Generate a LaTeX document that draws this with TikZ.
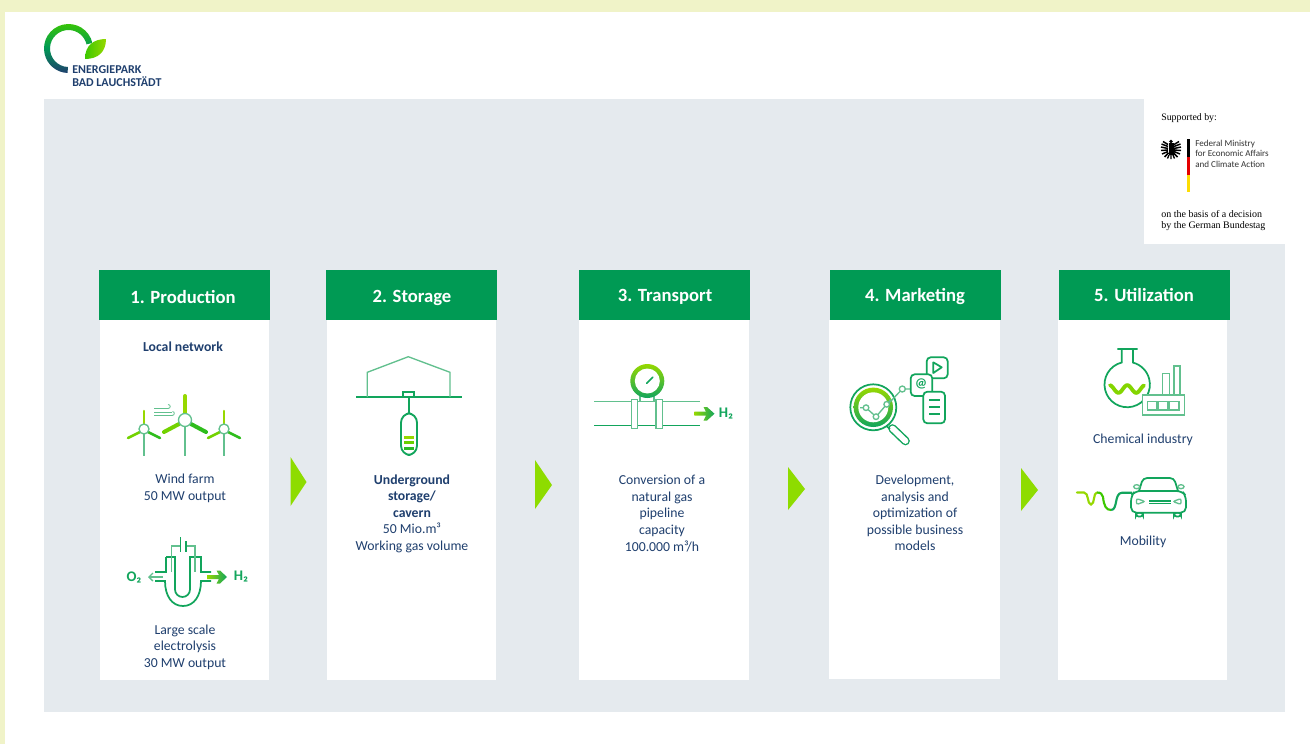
\documentclass[tikz,border=0pt]{standalone}
\usepackage{fontspec}
\usetikzlibrary{arrows.meta}
\setmainfont{Carlito}
\newfontfamily\serifface{Liberation Serif}
\definecolor{bandcol}{HTML}{F0F3C8}
\definecolor{panelcol}{HTML}{E5EAEE}
\definecolor{headcol}{HTML}{009A54}
\definecolor{navycol}{HTML}{1F3F6E}
\definecolor{limecol}{HTML}{96D800}
\definecolor{leafcol}{HTML}{3CC800}
\definecolor{iconcol}{HTML}{12A55C}
\definecolor{palecol}{HTML}{62C08E}
\definecolor{chevcol}{HTML}{8EDC00}
\tikzset{
  headtext/.style={text=white,text height=10pt,text depth=3pt,font=\fontsize{14}{16}\selectfont\bfseries},
  bodytext/.style={text=navycol,align=center,font=\fontsize{10.3}{12.4}\selectfont},
  icon/.style={draw=iconcol,line width=1.3pt},
  thinicon/.style={draw=palecol,line width=1pt},
  blade/.style={line width=1.9pt,line cap=round},
  gas/.style={text=iconcol,font=\fontsize{11}{12}\selectfont\bfseries},
  glide/.style={left color=limecol,right color=iconcol,draw=none},
  logotext/.style={text=navycol,anchor=west,inner sep=0pt,font=\fontsize{9}{10}\selectfont\bfseries}
}
\begin{document}
\begin{tikzpicture}[x=0.75pt,y=-0.75pt]
\useasboundingbox (0,0) rectangle (1310,744);
\fill[white] (0,0) rectangle (1310,744);
\fill[bandcol] (0,0) rectangle (1310,12);
\fill[bandcol] (0,0) rectangle (5,744);
\fill[panelcol] (44,99) rectangle (1285,712);
\fill[white] (1144,99) rectangle (1285,244);

\shade[top color=leafcol,bottom color=navycol,middle color=headcol,shift={(68.5,48.5)}] (-13:24.5) arc[start angle=-13,end angle=-268,radius=24.5] -- (-268:18.5) arc[start angle=-268,end angle=-13,radius=18.5] -- cycle;
\shade[left color=leafcol,right color=limecol] (85,59) .. controls (85,45) and (94,39) .. (106,39) .. controls (106,52) and (98,59) .. cycle;
\node[logotext] (logotop) at (72,70) {ENERGIEPARK};
\node[logotext] (logobottom) at (72,81.5) {BAD LAUCHSTÄDT};

\node[anchor=west,inner sep=0pt,font=\serifface\fontsize{7.4}{8}\selectfont] (supported) at (1161,118) {Supported by:};
\node[anchor=north west,inner sep=0pt,align=left,text=black!80,font=\fontsize{6.8}{7.9}\selectfont] (ministry) at (1195,139.5) {Federal Ministry\\for Economic Affairs\\and Climate Action};
\node[anchor=north west,inner sep=0pt,align=left,font=\serifface\fontsize{7.5}{7.9}\selectfont] (decision) at (1161,210.5) {on the basis of a decision\\by the German Bundestag};
\fill[black] (1186.5,139) rectangle (1189.5,157);
\fill[red!90!black] (1186.5,157) rectangle (1189.5,175);
\fill[yellow!80!orange] (1186.5,175) rectangle (1189.5,192);
\fill[black] (1171,141.5) circle (1.8);
\fill[black] (1168.5,143) rectangle (1173.5,155);
\draw[black,line width=1.1pt] (1168,144.5) -- (1163,141.5) (1168,146.5) -- (1161.5,144) (1168,148.5) -- (1161,147) (1168,150) -- (1161,150.5) (1168,151.5) -- (1162,154) (1168.5,153) -- (1164.5,157);
\draw[black,line width=1.1pt] (1174,144.5) -- (1179,141.5) (1174,146.5) -- (1180.5,144) (1174,148.5) -- (1181,147) (1174,150) -- (1181,150.5) (1174,151.5) -- (1180,154) (1173.5,153) -- (1177.5,157);
\draw[black,line width=1pt] (1169,155) -- (1167.5,158.5) (1171,155) -- (1171,159) (1173,155) -- (1174.5,158.5);

\fill[white] (100,320) rectangle (269,680);
\fill[headcol] (99,270) rectangle (270,320);
\node[headtext] (production) at (183,299) {1. Production};
\fill[white] (327,320) rectangle (496,680);
\fill[headcol] (326,270) rectangle (497,320);
\node[headtext] (storage) at (412,298) {2. Storage};
\fill[white] (579,320) rectangle (749,680);
\fill[headcol] (579,270) rectangle (750,320);
\node[headtext] (transport) at (665,297) {3. Transport};
\fill[white] (829,320) rectangle (1000,679);
\fill[headcol] (830,270) rectangle (1001,320);
\node[headtext] (marketing) at (915,297) {4. Marketing};
\fill[white] (1058,320) rectangle (1227,680);
\fill[headcol] (1059,270) rectangle (1230,320);
\node[headtext] (utilization) at (1144,297) {5. Utilization};

\fill[chevcol] (290.5,457) -- (306.5,482) -- (290.5,506) -- cycle;
\fill[chevcol] (535,460) -- (552,485) -- (535,509) -- cycle;
\fill[chevcol] (788,467) -- (805,489) -- (788,510) -- cycle;
\fill[chevcol] (1021,468) -- (1038,490) -- (1021,511) -- cycle;

\node[bodytext,font=\fontsize{10.3}{12.4}\selectfont\bfseries] (localnet) at (183,347) {Local network};
\node[bodytext] (windfarm) at (185,488.5) {Wind farm\\50 MW output};
\node[bodytext] (electrolysis) at (185,647) {Large scale\\electrolysis\\30 MW output};
\node[bodytext] (cavern) at (412,513.5) {\textbf{Underground}\\\textbf{storage/}\\\textbf{cavern}\\50 Mio.m³\\Working gas volume};
\node[bodytext] (conversion) at (662,513.5) {Conversion of a\\natural gas\\pipeline\\capacity\\100.000 m³/h};
\node[bodytext] (models) at (915,513) {Development,\\analysis and\\optimization of\\possible business\\models};
\node[bodytext] (chemical) at (1143,440) {Chemical industry};
\node[bodytext] (mobility) at (1143,542) {Mobility};

\draw[palecol,line width=1.1pt] (144,429) -- (144,456);
\draw[limecol,blade] (144,424) -- (144,411);
\draw[limecol!60!leafcol,blade] (140,432) -- (128,438);
\draw[leafcol!70!iconcol,blade] (148,432) -- (160,438);
\draw[thinicon,fill=white] (144,429) circle (5);
\draw[palecol,line width=1.1pt] (185,420) -- (185,456);
\draw[limecol,line width=3pt,line cap=round] (185,413) -- (185,396);
\draw[limecol!60!leafcol,line width=3pt,line cap=round] (179,424) -- (164,432);
\draw[leafcol!70!iconcol,line width=3pt,line cap=round] (191,424) -- (206,432);
\draw[thinicon,fill=white] (185,420) circle (6.5);
\draw[palecol,line width=1.1pt] (224,429) -- (224,456);
\draw[limecol,blade] (224,424) -- (224,411);
\draw[limecol!60!leafcol,blade] (220,432) -- (208,438);
\draw[leafcol!70!iconcol,blade] (228,432) -- (240,438);
\draw[thinicon,fill=white] (224,429) circle (5);
\draw[palecol,line width=.6pt] (154,408.5) -- (168,408.5) .. controls (171,408.5) and (171,404.5) .. (168,404.5);
\draw[palecol,line width=.6pt] (154,412) -- (172,412);
\draw[palecol,line width=.6pt] (154,415.5) -- (172,415.5) .. controls (175,415.5) and (175,411.5) .. (172.5,411.5);

\node[gas] (oxygen) at (134,577) {O₂};
\node[gas] (hydrogena) at (241,577) {H₂};
\draw[icon] (166,557) -- (166,572) -- (155,572);
\draw[icon] (155,581) -- (165,581) .. controls (165,596) and (172,606) .. (183,606) .. controls (194,606) and (201,596) .. (201,581) -- (211,581);
\draw[icon] (166,557) -- (175,557) -- (175,589.5) arc[start angle=180,end angle=90,radius=7.5] arc[start angle=90,end angle=0,radius=7.5] -- (190,557) -- (201,557) -- (201,572) -- (211,572);
\draw[thinicon] (171.7,572) -- (171.7,546) -- (180.5,546) (186,546) -- (195,546) -- (195,572);
\draw[icon,line width=.7pt] (180.5,537) -- (180.5,552);
\draw[icon,line width=2pt] (186,541) -- (186,552);
\draw[thinicon,-{Straight Barb[length=3pt]}] (163,577) -- (148,577);
\shade[glide] (207,575) -- (219,575) -- (216.5,570.5) -- (220,570.5) -- (227,577) -- (220,583.5) -- (216.5,583.5) -- (219,579) -- (207,579) -- cycle;

\draw[icon] (356,397.3) -- (462,397.3);
\draw[thinicon,line width=1pt] (367.3,397) -- (367.3,372.3) -- (408.3,356.7) -- (450,372.3) -- (450,397);
\draw[icon,fill=white] (403.3,391.7) rectangle (414.3,397.3);
\draw[icon,line width=1.4pt] (408.7,397.3) -- (408.7,413.3);
\draw[icon,line width=1.4pt,fill=white,rounded corners=7pt] (401,413.3) rectangle (417,455);
\fill[limecol] (403.7,435.5) rectangle (413.7,438.5);
\fill[limecol!50!leafcol] (403.7,441) rectangle (413.7,444);
\fill[leafcol!60!iconcol] (403.7,446.5) rectangle (413.7,449.5);

\draw[palecol,line width=1.1pt] (594.3,401.7) -- (700,401.7);
\draw[iconcol,line width=1pt] (594.3,425.7) -- (700,425.7);
\draw[thinicon,fill=white] (631.7,399.3) rectangle (637.7,428.3);
\draw[thinicon,fill=white] (656,399.3) rectangle (662.3,428.3);
\draw[thinicon] (640,401) -- (640,396) (654,401) -- (654,396);
\shade[top color=limecol,bottom color=iconcol] (647.3,381) circle (17);
\fill[white] (647.3,381) circle (12.5);
\draw[iconcol,line width=1.2pt,line cap=round] (646.7,383.3) -- (652.7,377.3);
\shade[glide] (694.3,411.7) -- (706,411.7) -- (703.5,407) -- (707,407) -- (714.5,413.7) -- (707,420.5) -- (703.5,420.5) -- (706,415.7) -- (694.3,415.7) -- cycle;
\node[gas] (hydrogenb) at (726,414) {H₂};

\draw[iconcol,line width=6.5pt,line cap=round] (892.5,428.5) -- (905.5,441);
\draw[white,line width=4.3pt,line cap=round] (892.5,428.5) -- (905.5,441);
\draw[icon] (883,423) -- (890,429);
\draw[icon,fill=white] (873.3,407.3) circle (23);
\shade[top color=limecol,bottom color=iconcol] (873.3,407.3) circle (19.7);
\fill[white] (873.3,407.3) circle (15);
\draw[thinicon] (889,403) -- (902.3,389) -- (911,389);
\draw[thinicon] (860,407.7) -- (866,407.7) -- (876,416.7) -- (886.7,404.3) -- (890.5,399.5);
\draw[thinicon,fill=white] (866,407.7) circle (2.8);
\draw[thinicon,fill=white] (876,416.7) circle (2.8);
\draw[thinicon,fill=white] (886.7,404.3) circle (2.8);
\draw[thinicon,fill=white] (902.3,389) circle (3);
\draw[icon,fill=white,rounded corners=3pt] (926.7,357.3) rectangle (947.7,378.3);
\draw[icon,line join=round] (933.3,362.3) -- (941.7,367.3) -- (933.3,373) -- cycle;
\draw[icon,fill=white,rounded corners=3pt] (910.7,374.3) rectangle (932.3,396);
\node[text=iconcol,inner sep=0pt,font=\fontsize{10}{11}\selectfont\bfseries] (email) at (921,384) {@};
\draw[icon,fill=white,rounded corners=3pt] (923.3,391.7) rectangle (945,423.3);
\draw[icon] (929.3,400) -- (940,400) (929.3,407.3) -- (940,407.3) (929.3,414) -- (940,414);

\draw[icon] (1117.3,349) -- (1137.7,349) (1121.7,349) -- (1121.7,362.5) arc[start angle=-104,end angle=-436,radius=22.7];
\draw[icon] (1133.3,349) -- (1133.3,362.5);
\draw[limecol!80!leafcol,line width=2.9pt,line cap=round,domain=1110:1144,samples=40] plot (\x,{389-3.8*cos((\x-1127.3)*20.3)});
\draw[thinicon,fill=white] (1142.7,395) rectangle (1184.3,415);
\draw[thinicon] (1162.7,395) -- (1162.7,373.3) -- (1169.3,373.3) -- (1169.3,395);
\draw[thinicon] (1174,395) -- (1174,366) -- (1180,366) -- (1180,395);
\draw[thinicon] (1147.3,401.7) rectangle (1157,410);
\draw[thinicon] (1158.3,401.7) rectangle (1168,410);
\draw[thinicon] (1169.3,401.7) rectangle (1179,410);

\draw[limecol,line width=1.6pt,line cap=round] (1077,492.5) -- (1084,492.5) .. controls (1089,492.5) and (1087,504.5) .. (1091,504.5) .. controls (1095,504.5) and (1093,492.5) .. (1097,492.5);
\draw[leafcol,line width=1.6pt] (1097,492.5) .. controls (1101,492.5) and (1102,494) .. (1103,497) .. controls (1104,506) and (1106,510) .. (1111,510);
\draw[iconcol,line width=1.6pt] (1111,510) .. controls (1118,510) and (1114,493) .. (1122,492.7) -- (1132,492.7);
\draw[icon,rounded corners=2pt] (1136,512.7) rectangle (1143,516.5);
\draw[icon,rounded corners=2pt] (1174,512.7) rectangle (1181,516.5);
\draw[icon,rounded corners=4pt,fill=white] (1131,496) -- (1135,491) -- (1182,491) -- (1186,496) -- (1186,512.7) -- (1131,512.7) -- cycle;
\draw[icon,rounded corners=3pt] (1139,491) -- (1143,478) -- (1174,478) -- (1178,491);
\draw[thinicon,fill=white] (1136.7,486.7) ellipse (3 and 2);
\draw[thinicon,fill=white] (1181,486.7) ellipse (3 and 2);
\draw[icon] (1149.3,500.7) -- (1170.7,500.7) (1149.3,503.5) -- (1170.7,503.5);
\draw[thinicon,rounded corners=1.5pt] (1136.5,498.5) -- (1145,501.5) -- (1136.5,504.5) -- cycle;
\draw[thinicon,rounded corners=1.5pt] (1181,498.5) -- (1173,501.5) -- (1181,504.5) -- cycle;
\end{tikzpicture}
\end{document}
